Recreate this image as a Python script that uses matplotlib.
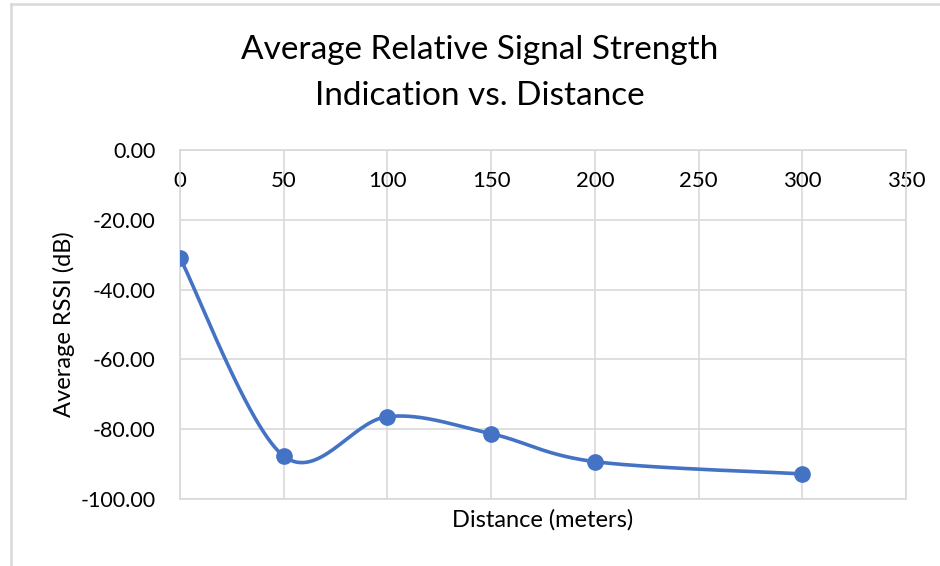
import numpy as np
import matplotlib
matplotlib.use("Agg")
import matplotlib.pyplot as plt
from matplotlib.lines import Line2D

plt.rcParams['font.family'] = ['Lato', 'DejaVu Sans']

# Measured averages
distance_m = [0, 50, 100, 150, 200, 300]
avg_rssi_db = [-30.9, -87.7, -76.4, -81.3, -89.3, -92.8]

x_ticks = [0, 50, 100, 150, 200, 250, 300, 350]
y_ticks = [0, -20, -40, -60, -80, -100]

title_lines = ["Average Relative Signal Strength", "Indication vs. Distance"]
x_label = "Distance (meters)"
y_label = "Average RSSI (dB)"

LINE_BLUE = "#4472C4"
GRID_GRAY = "#D9D9D9"


def smooth_curve(xs, ys, steps=60):
    """Cubic Bezier smoothing through every point (spreadsheet style)."""
    pts = np.column_stack([xs, ys]).astype(float)
    n = len(pts)
    out = []
    for i in range(n - 1):
        p0 = pts[i - 1] if i > 0 else pts[i]
        p1 = pts[i]
        p2 = pts[i + 1]
        p3 = pts[i + 2] if i + 2 < n else pts[i + 1]
        c1 = p1 + (p2 - p0) / 6.0
        c2 = p2 - (p3 - p1) / 6.0
        t = np.linspace(0, 1, steps)[:, None]
        seg = ((1 - t) ** 3) * p1 + 3 * ((1 - t) ** 2) * t * c1 \
            + 3 * (1 - t) * t ** 2 * c2 + t ** 3 * p2
        out.append(seg if i == 0 else seg[1:])
    curve = np.vstack(out)
    return curve[:, 0], curve[:, 1]


fig = plt.figure(figsize=(9.4, 5.66), dpi=100)
ax = fig.add_axes([180 / 940, 1 - 499 / 566, (906 - 180) / 940, (499 - 150) / 566])

cx, cy = smooth_curve(distance_m, avg_rssi_db)
ax.plot(cx, cy, color=LINE_BLUE, linewidth=2.6, solid_capstyle='round', zorder=3)
ax.plot(distance_m, avg_rssi_db, linestyle='none', marker='o', markersize=11,
        color=LINE_BLUE, zorder=4)

ax.set_xlim(0, 350)
ax.set_ylim(-100, 0)
ax.set_xticks(x_ticks)
ax.set_yticks(y_ticks)
ax.set_xticklabels([str(v) for v in x_ticks])
ax.set_yticklabels([f"{v:.2f}" for v in y_ticks])

ax.grid(True, color=GRID_GRAY, linewidth=1.2)
ax.set_axisbelow(True)
for s in ax.spines.values():
    s.set_color(GRID_GRAY)
    s.set_linewidth(1.2)

ax.tick_params(axis='x', bottom=False, top=False, labelbottom=False,
               labeltop=True, pad=-33, labelsize=16, colors='black')
ax.tick_params(axis='y', left=False, right=False, pad=14, labelsize=15.5,
               colors='black')

ax.set_xlabel(x_label, fontsize=17, labelpad=7)
ax.set_ylabel(y_label, fontsize=17, labelpad=4)

for text, ypix in zip(title_lines, [50, 96]):
    fig.text(480 / 940, 1 - ypix / 566, text, ha='center', va='center',
             fontsize=24)

# chart frame
fig.add_artist(Line2D([11 / 940, 1], [1 - 4 / 566, 1 - 4 / 566],
                      color=GRID_GRAY, linewidth=1.8))
fig.add_artist(Line2D([11 / 940, 11 / 940], [0, 1 - 4 / 566],
                      color=GRID_GRAY, linewidth=1.8))

fig.savefig("out.png", dpi=100)
